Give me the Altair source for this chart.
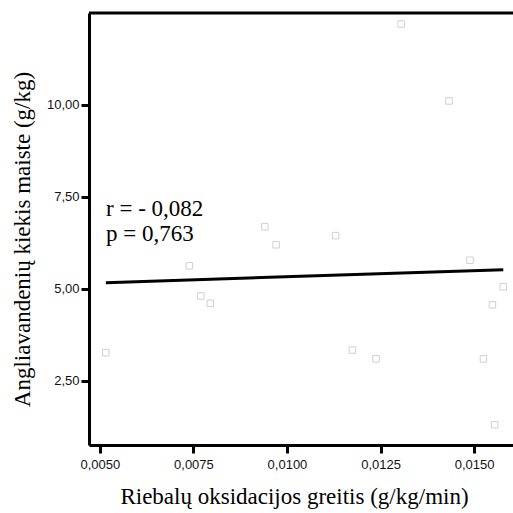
import altair as alt
import pandas as pd

# Data
fat_oxidation = [0.00516, 0.00739, 0.00770, 0.00795, 0.00941, 0.00971, 0.01130, 0.01175,
                 0.01238, 0.01305, 0.01433, 0.01489, 0.01525, 0.01549, 0.01555, 0.01578]
carbs = [3.27, 5.63, 4.81, 4.61, 6.69, 6.20, 6.45, 3.34,
         3.10, 12.20, 10.11, 5.78, 3.10, 4.57, 1.31, 5.06]
x_ticks = [0.005, 0.0075, 0.01, 0.0125, 0.015]
y_ticks = [2.5, 5.0, 7.5, 10.0]
annot_r = "r = - 0,082"
annot_p = "p = 0,763"

df = pd.DataFrame({"x": fat_oxidation, "y": carbs})

W, H = 424, 432

xscale = alt.Scale(domain=[0.00471, 0.01604], nice=False, zero=False)
yscale = alt.Scale(domain=[0.76, 12.5], nice=False, zero=False)

xaxis = alt.Axis(
    title="Riebalų oksidacijos greitis (g/kg/min)",
    values=x_ticks,
    labelExpr="replace(format(datum.value, '.4f'), '.', ',')",
    grid=False, domainColor="black", domainWidth=3,
    tickColor="black", tickWidth=3, tickSize=8,
    labelFont="Liberation Sans", labelFontSize=13, labelColor="#111111", labelPadding=5,
    titleFont="Liberation Serif", titleFontSize=23, titleFontWeight="normal",
    titleColor="black", titlePadding=14, titleX=205,
)
yaxis = alt.Axis(
    title="Angliavandenių kiekis maiste (g/kg)",
    values=y_ticks,
    labelExpr="replace(format(datum.value, '.2f'), '.', ',')",
    grid=False, domainColor="black", domainWidth=3,
    tickColor="black", tickWidth=3, tickSize=8,
    labelFont="Liberation Sans", labelFontSize=13, labelColor="#111111", labelPadding=2,
    titleFont="Liberation Serif", titleFontSize=23, titleFontWeight="normal",
    titleColor="black", titlePadding=12, titleY=226,
)

base = alt.Chart(df)

points = base.mark_point(shape="square", filled=False, size=42, color="#bdbdbd",
                         strokeWidth=1).encode(
    x=alt.X("x:Q", scale=xscale, axis=xaxis),
    y=alt.Y("y:Q", scale=yscale, axis=yaxis),
)

line = base.transform_regression("x", "y").mark_line(color="black", strokeWidth=3).encode(
    x=alt.X("x:Q", scale=xscale),
    y=alt.Y("y:Q", scale=yscale),
)

top_border = alt.Chart(pd.DataFrame({"a": [0]})).mark_rule(color="black", strokeWidth=3).encode(
    x=alt.value(0), x2=alt.value(W), y=alt.value(0)
)

def annot(txt, ypix):
    return alt.Chart(pd.DataFrame({"t": [txt]})).mark_text(
        font="Liberation Serif", fontSize=23, color="black", align="left",
        baseline="alphabetic"
    ).encode(text="t:N", x=alt.value(17), y=alt.value(ypix))

chart = alt.layer(points, line, top_border, annot(annot_r, 203), annot(annot_p, 228)).properties(
    width=W, height=H,
    padding={"left": 89, "top": 13, "right": 0, "bottom": 68},
    autosize=alt.AutoSizeParams(type="none"),
    background="white",
).configure_view(stroke=None)

chart.save("out.html", embed_options={"renderer": "svg", "actions": False})
